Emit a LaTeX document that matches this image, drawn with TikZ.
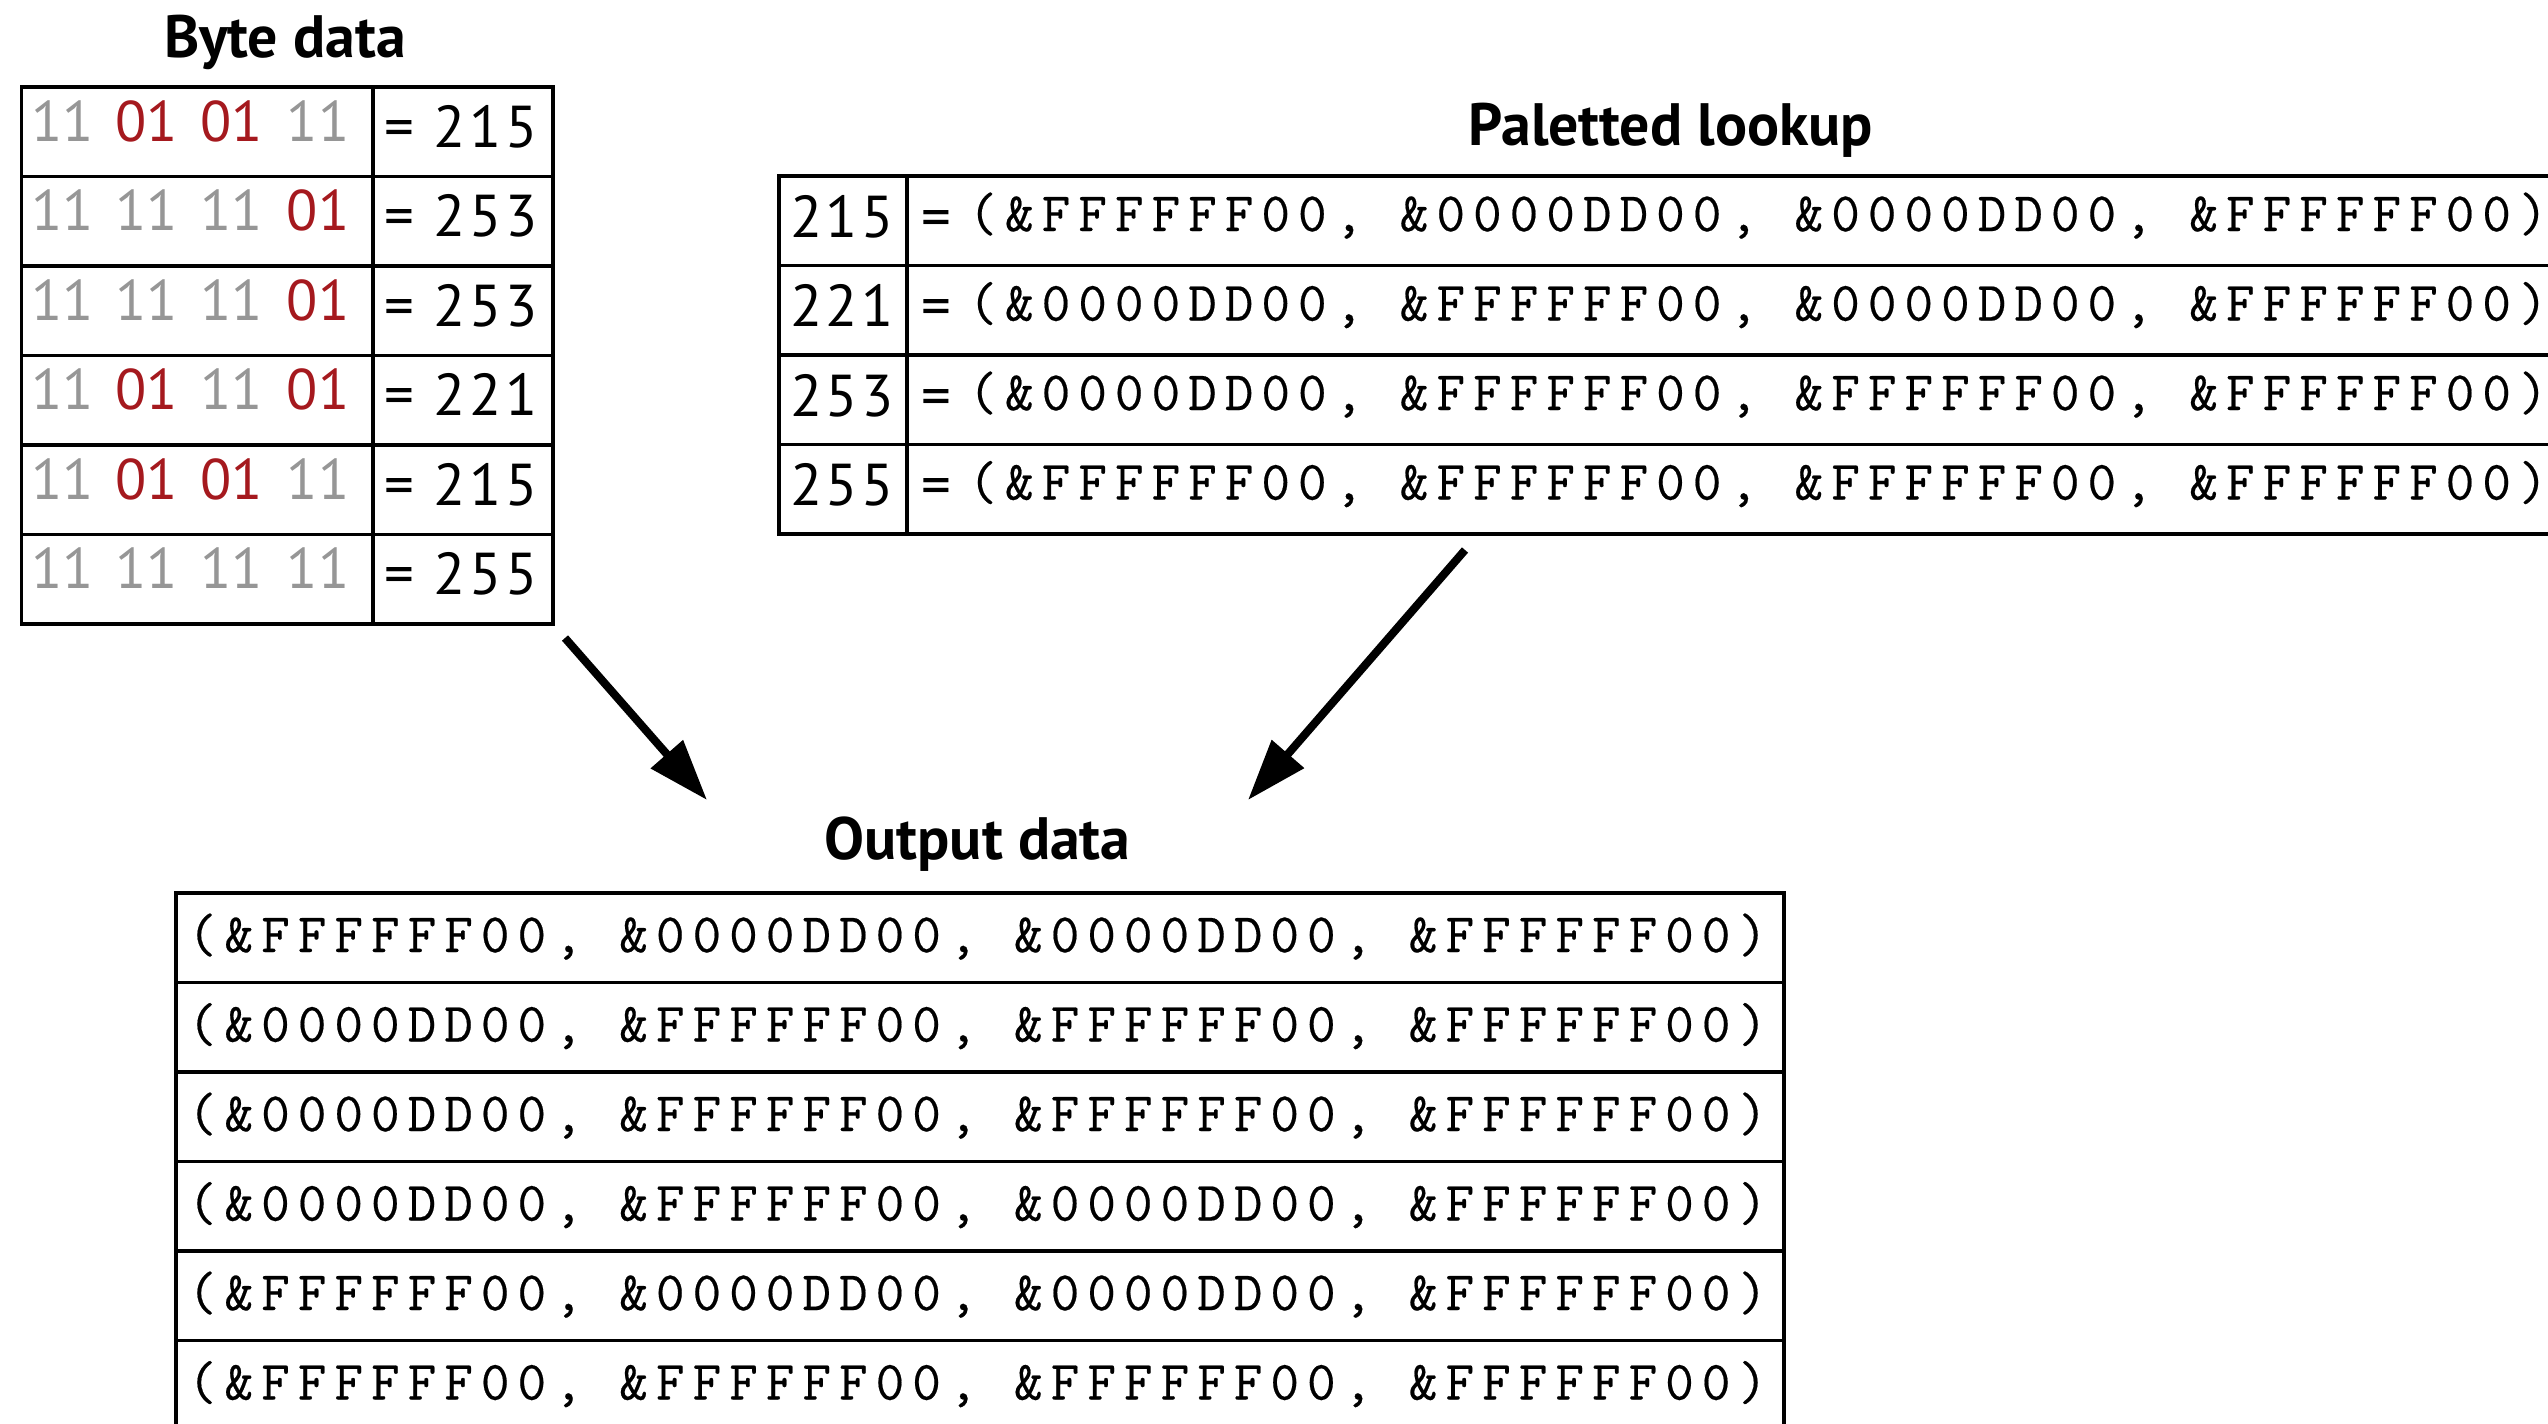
\documentclass[tikz,border=0pt]{standalone}
\usepackage{fontspec}
\usetikzlibrary{arrows.meta}
\newfontfamily\ptsans{PT Sans}
\newfontfamily\ptsansnum{PT Sans}[LetterSpace=6]
\newfontfamily\codefont{Latin Modern Mono}[LetterSpace=14.4, FakeBold=0.35]
\definecolor{bitgray}{RGB}{150,150,150}
\definecolor{bitred}{RGB}{165,25,30}
\newcommand\bitcell[1]{\if#1g\textcolor{bitgray}{11}\else\textcolor{bitred}{01}\fi}
\tikzset{
  cell/.style={draw=black, line width=1.1pt, rectangle, inner sep=0pt, minimum height=0.895cm, anchor=north west},
  titletext/.style={anchor=base, inner sep=0pt, font=\ptsans\bfseries\fontsize{17pt}{20pt}\selectfont},
  bittext/.style={anchor=base, inner sep=0pt, font=\ptsans\fontsize{16.3pt}{19pt}\selectfont},
  numtext/.style={anchor=base, inner sep=0pt, font=\ptsansnum\fontsize{16.8pt}{19pt}\selectfont},
  codetext/.style={anchor=base, inner sep=0pt, font=\codefont\fontsize{15.8pt}{19pt}\selectfont},
  bigarrow/.style={line width=2.3pt, -{Triangle[length=0.61cm,width=0.41cm]}}
}
\begin{document}
\begin{tikzpicture}[x=0.01cm, y=-0.01cm]
\useasboundingbox (0,0) rectangle (2548,1423);
\clip (0,0) rectangle (2548,1423);

% ---- Byte data ----
\node[titletext] (ttbyte) at (285,57) {Byte data};
\foreach \a/\b/\c/\d/\v [count=\i from 0] in {g/r/r/g/215, g/g/g/r/253, g/g/g/r/253, g/r/g/r/221, g/r/r/g/215, g/g/g/g/255} {
  \pgfmathsetmacro\ty{85+89.5*\i}
  \node[cell, minimum width=3.51cm] (bl\i) at (19.5,\ty) {};
  \node[cell, minimum width=1.805cm] (br\i) at (370.5,\ty) {};
  \node[bittext] (bA\i) at (62.5,\ty+56) {\bitcell{\a}};
  \node[bittext] (bB\i) at (146.5,\ty+56) {\bitcell{\b}};
  \node[bittext] (bC\i) at (231.5,\ty+56) {\bitcell{\c}};
  \node[bittext] (bD\i) at (318,\ty+56) {\bitcell{\d}};
  \node[numtext] (bv\i) at (461,\ty+62) {= \v};
}

% ---- Paletted lookup ----
\node[titletext] (ttpal) at (1671,145) {Paletted lookup};
\foreach \v/\s [count=\i from 0] in {
  215/{(\&FFFFFF00, \&0000DD00, \&0000DD00, \&FFFFFF00)},
  221/{(\&0000DD00, \&FFFFFF00, \&0000DD00, \&FFFFFF00)},
  253/{(\&0000DD00, \&FFFFFF00, \&FFFFFF00, \&FFFFFF00)},
  255/{(\&FFFFFF00, \&FFFFFF00, \&FFFFFF00, \&FFFFFF00)}} {
  \pgfmathsetmacro\ty{174+89.5*\i}
  \node[cell, minimum width=1.28cm] (pl\i) at (777,\ty) {};
  \node[cell, minimum width=17.2cm] (pr\i) at (905,\ty) {};
  \node[numtext] (pv\i) at (842,\ty+63) {\v};
  \node[numtext] (pe\i) at (936.5,\ty+63) {=};
  \node[codetext] (ps\i) at (1758,\ty+57) {\s};
}

% ---- Output data ----
\node[titletext] (ttout) at (977.5,859) {Output data};
\foreach \s [count=\i from 0] in {
  {(\&FFFFFF00, \&0000DD00, \&0000DD00, \&FFFFFF00)},
  {(\&0000DD00, \&FFFFFF00, \&FFFFFF00, \&FFFFFF00)},
  {(\&0000DD00, \&FFFFFF00, \&FFFFFF00, \&FFFFFF00)},
  {(\&0000DD00, \&FFFFFF00, \&0000DD00, \&FFFFFF00)},
  {(\&FFFFFF00, \&0000DD00, \&0000DD00, \&FFFFFF00)},
  {(\&FFFFFF00, \&FFFFFF00, \&FFFFFF00, \&FFFFFF00)}} {
  \pgfmathsetmacro\ty{891+89.5*\i}
  \node[cell, minimum width=16.07cm] (or\i) at (174,\ty) {};
  \node[codetext] (os\i) at (977.5,\ty+61) {\s};
}

% ---- arrows ----
\coordinate (a1s) at (565,638);
\coordinate (a1e) at (707,800);
\coordinate (a2s) at (1465,550);
\coordinate (a2e) at (1248,800);
\draw[bigarrow] (a1s) -- (a1e);
\draw[bigarrow] (a2s) -- (a2e);
\end{tikzpicture}
\end{document}
